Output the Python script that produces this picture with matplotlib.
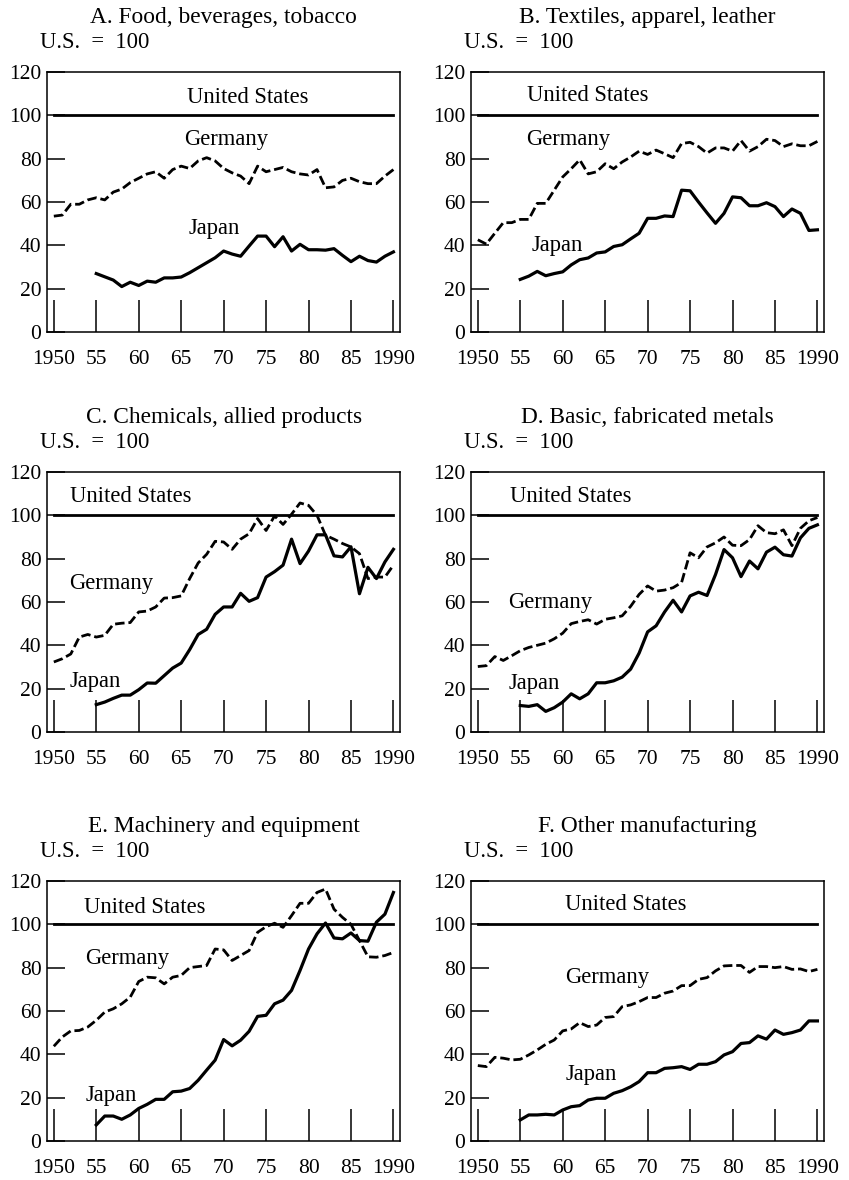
import numpy as np
from matplotlib import pyplot as plt

plt.rcParams['font.family'] = ['Liberation Serif', 'DejaVu Serif']

years_de = np.arange(1950, 1991)
years_jp = np.arange(1955, 1991)

titles = ["A. Food, beverages, tobacco", "B. Textiles, apparel, leather",
          "C. Chemicals, allied products", "D. Basic, fabricated metals",
          "E. Machinery and equipment", "F. Other manufacturing"]

us_level = 100

# Germany, 1950-1990 (U.S. = 100)
germany_a = [53.5, 54, 59, 59, 61, 62, 61, 64.6, 66, 69, 71, 73, 74, 71, 75, 76.6, 75.5, 79, 80.5, 79,
             75.5, 73.5, 72, 68.5, 76.6, 74, 75, 76, 74, 73, 72.5, 75, 66.6, 67, 70, 71, 69.4, 68.5, 68.5, 72, 75]
germany_b = [42.6, 40.6, 45.6, 50.5, 50.5, 52, 52, 59.4, 59.4, 65.5, 71.6, 75.4, 79.5, 73, 74, 77.7, 75.4, 78.5, 80.8, 83.5,
             82, 84, 82.3, 80.5, 87, 87.6, 85.6, 82.6, 85, 85, 83.5, 88.4, 83.5, 85.6, 89, 88.4, 85.6, 86.9, 86, 86, 88]
germany_c = [32.3, 33.8, 36, 43.8, 45, 43.8, 44.6, 49.7, 50.2, 50.5, 55.4, 55.8, 57.7, 61.8, 62, 62.8, 70.8, 78, 82, 88,
             87.7, 84.3, 89, 91.5, 98.5, 93, 99.7, 95.8, 100.5, 105.7, 104.6, 100, 90.8, 89, 87, 85.4, 82.3, 70.8, 71.5, 71.5, 77]
germany_d = [30.2, 30.6, 34.8, 33, 35.2, 37.5, 39, 40, 41, 43, 45.6, 50, 51, 51.8, 49.8, 52, 52.7, 53.6, 58, 63.5,
             67.4, 65, 65.5, 66.6, 69, 82.7, 80.4, 85.4, 87.3, 90, 86.2, 86, 88.8, 95.2, 92, 91.5, 93.3, 86, 94, 97.5, 99]
germany_e = [43.7, 48, 50.8, 51, 52.6, 55.7, 59.5, 61, 63.3, 66.4, 73.6, 75.6, 75.3, 72.5, 75.6, 76.4, 80, 80.5, 81, 88.6,
             88.2, 83.3, 85.6, 87.9, 96.3, 98.9, 100.5, 98.6, 104, 109.7, 109.7, 114.7, 116.3, 107, 103.2, 100, 92.5, 85, 84.8, 85.6, 87]
germany_f = [34.8, 34.3, 38.6, 38.2, 37.4, 37.7, 39.7, 42, 44.6, 46.6, 50.8, 51.7, 54.6, 52.8, 53.5, 57, 57.4, 62, 62.8, 64.3,
             66.2, 66.2, 68.2, 69.2, 71.7, 71.7, 74.6, 75.4, 78.5, 80.8, 81, 81, 77.8, 80.5, 80.5, 80, 80.5, 79.2, 79.4, 78.2, 79.2]

# Japan, 1955-1990 (U.S. = 100)
japan_a = [27, 25.5, 24, 21, 23, 21.5, 23.5, 23, 25, 25, 25.4, 27.4, 29.7, 32, 34.3, 37.4, 36, 35, 39.7, 44.3,
           44.3, 39.4, 44, 37.4, 40.5, 38, 38, 37.8, 38.5, 35.4, 32.5, 35, 33, 32.3, 35, 37]
japan_b = [24.3, 25.8, 28, 26, 27, 27.8, 31, 33.4, 34.2, 36.5, 37, 39.5, 40.3, 43, 45.6, 52.5, 52.5, 53.6, 53.3, 65.5,
           65.2, 60, 55, 50.2, 54.8, 62.4, 62, 58.3, 58.3, 59.7, 57.9, 53.3, 56.8, 54.8, 46.9, 47.2]
japan_c = [12.6, 13.8, 15.5, 17, 17, 19.5, 22.6, 22.5, 26, 29.5, 31.8, 38, 45, 47.4, 54.3, 57.7, 57.7, 64, 60.3, 62,
           71.5, 74, 77, 89, 77.7, 83.5, 91, 91, 81.3, 80.8, 85.5, 63.8, 76, 70.8, 78.5, 84.3]
japan_d = [12.2, 11.8, 12.6, 9.5, 11.2, 13.8, 17.6, 15.3, 17.6, 22.7, 22.7, 23.6, 25.3, 29, 36.4, 46.2, 49, 55.4, 60.8, 55.4,
           62.8, 64.5, 63, 72.7, 84.2, 80.4, 71.7, 78.9, 75.3, 83, 85.3, 81.8, 81.2, 89.6, 94, 95.6]
japan_e = [7.4, 11.5, 11.5, 10, 12, 15, 16.9, 19.2, 19.2, 22.7, 23, 24.2, 28, 32.7, 37.3, 46.8, 43.9, 46.5, 50.6, 57.5,
           58, 63.3, 65, 69.5, 78.7, 88.6, 95.6, 100.6, 93.7, 93.3, 96, 92.5, 92.2, 101, 104.7, 114.7]
japan_f = [9.7, 12, 12, 12.3, 12, 14.3, 15.8, 16.3, 18.9, 19.7, 19.7, 22, 23.2, 25, 27.4, 31.5, 31.5, 33.5, 33.8, 34.3,
           33, 35.4, 35.4, 36.6, 39.7, 41.2, 45, 45.4, 48.5, 47, 51.2, 49.2, 50, 51.2, 55.4, 55.4]

germany = [germany_a, germany_b, germany_c, germany_d, germany_e, germany_f]
japan = [japan_a, japan_b, japan_c, japan_d, japan_e, japan_f]

# label anchors (year, value) for the series names in each panel
us_label_pos = [(1972.9, 108.5), (1963, 109), (1959.1, 108.8), (1960.9, 108.7), (1960.7, 107.8), (1967.4, 109)]
de_label_pos = [(1970.3, 89), (1960.7, 88.7), (1956.7, 68.5), (1958.5, 59.7), (1958.6, 84.4), (1965.2, 75.5)]
jp_label_pos = [(1968.9, 48), (1959.3, 40), (1954.9, 23.5), (1956.7, 22.2), (1956.8, 21.2), (1963.4, 30.5)]

xticks = [1950, 1955, 1960, 1965, 1970, 1975, 1980, 1985, 1990]
xticklabels = ["1950", "55", "60", "65", "70", "75", "80", "85", "1990"]
yticks = [0, 20, 40, 60, 80, 100, 120]

fig = plt.figure(figsize=(8.49, 11.8), dpi=100)
lefts = [0.0554, 0.5548]
bottoms = [0.7186, 0.3797, 0.0331]
w, h = 0.416, 0.2203

for i in range(6):
    ax = fig.add_axes([lefts[i % 2], bottoms[i // 2], w, h])
    ax.plot([1950, 1990], [us_level, us_level], color="black", lw=2.0)
    ax.plot(years_de, germany[i], color="black", lw=2.0, ls=(0, (3.4, 1.4)))
    ax.plot(years_jp, japan[i], color="black", lw=2.3)
    ax.set_xlim(1949.2, 1990.8)
    ax.set_ylim(0, 120)
    ax.set_xticks(xticks)
    ax.set_xticklabels(xticklabels)
    ax.set_yticks(yticks)
    ax.tick_params(axis="x", direction="in", length=23, width=1.1, pad=13, labelsize=15.5)
    ax.tick_params(axis="y", direction="in", length=13, width=1.1, pad=4, labelsize=15.5)
    for s in ax.spines.values():
        s.set_linewidth(1.1)
    ax.text(*us_label_pos[i], "United States", ha="center", va="center", fontsize=16.3)
    ax.text(*de_label_pos[i], "Germany", ha="center", va="center", fontsize=16.3)
    ax.text(*jp_label_pos[i], "Japan", ha="center", va="center", fontsize=16.3)
    ax.text(0.5, 1.21, titles[i], transform=ax.transAxes, ha="center", va="center", fontsize=16.8)
    ax.text(-0.02, 1.115, "U.S.  =  100", transform=ax.transAxes, ha="left", va="center", fontsize=16.3)

fig.savefig("out.png", dpi=100)
